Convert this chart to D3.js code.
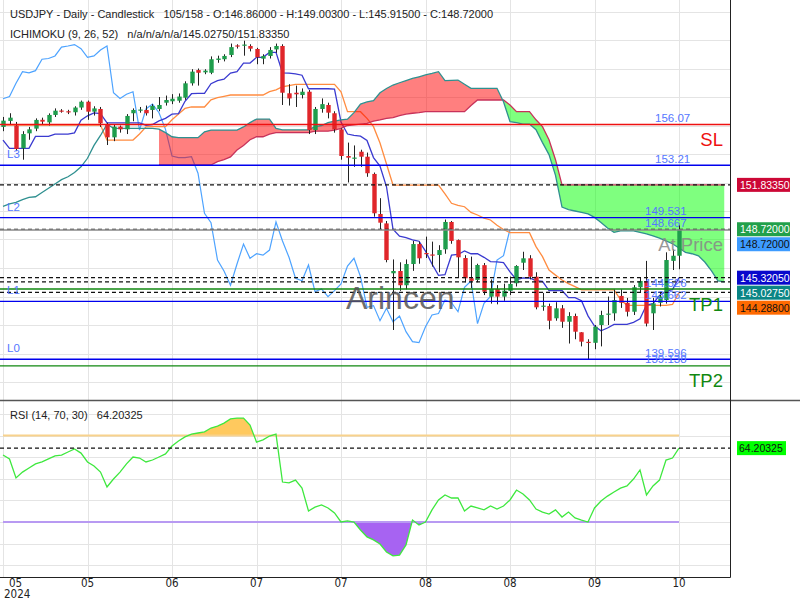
<!DOCTYPE html>
<html>
<head>
<meta charset="utf-8">
<script src="https://cdn.jsdelivr.net/npm/d3@7"></script>
<style>
  body { margin: 0; background: #fff; }
  svg { display: block; font-family: "Liberation Sans", Arial, sans-serif; }
</style>
</head>
<body>
<div id="chart"></div>
<script>
// ---- data ----
const opens  = [155.90,156.32,156.00,154.40,155.45,155.78,156.40,156.22,156.74,157.05,157.00,156.93,157.26,157.67,156.97,157.16,156.08,155.17,155.92,155.73,
                156.86,157.05,157.09,157.09,157.16,157.60,157.70,157.74,157.95,158.96,159.89,159.73,159.70,160.60,160.65,160.95,161.62,161.60,161.58,161.37,
                160.69,160.88,161.34,161.58,158.26,158.30,158.14,158.37,155.68,157.16,157.44,156.86,155.73,153.86,153.70,154.16,153.81,152.60,149.79,149.13,
                145.63,145.79,144.79,146.28,147.68,147.05,146.95,146.91,147.31,149.23,147.96,146.70,145.28,145.16,146.20,143.99,144.53,143.99,144.40,144.93,
                146.37,146.68,145.39,143.30,143.33,142.47,143.17,142.23,142.63,141.49,140.82,140.75,142.00,142.73,142.82,144.04,143.56,142.93,144.65,145.09,
                142.82,143.56,143.75,146.50,146.86];
const highs  = [156.60,156.86,156.25,155.60,155.90,156.50,156.55,156.85,157.20,157.15,157.10,157.35,157.75,157.75,157.35,157.30,156.20,156.10,156.00,156.80,
                157.20,157.30,157.40,157.50,158.00,158.10,158.20,158.25,159.10,159.95,160.00,159.95,160.85,160.90,161.00,161.75,161.70,161.95,161.70,161.45,
                161.00,161.50,161.75,161.70,158.90,158.80,158.60,158.50,157.30,157.90,157.60,157.00,155.80,154.80,154.60,154.30,154.10,152.70,150.90,149.30,
                146.60,146.40,146.60,147.90,147.85,148.20,147.85,147.60,149.40,149.30,148.00,146.90,146.80,146.30,146.35,145.20,144.80,144.90,145.40,146.20,
                147.14,146.90,145.70,144.25,143.50,143.60,143.40,142.90,142.80,141.50,141.00,142.00,143.00,144.00,144.50,144.50,143.90,144.80,145.30,146.50,
                143.90,144.30,147.10,147.30,149.003];
const lows   = [155.60,156.10,154.20,153.60,155.00,155.60,156.10,156.00,156.60,156.90,156.80,156.70,157.10,156.40,156.70,155.90,154.63,154.90,155.50,155.40,
                156.30,156.90,156.70,156.50,157.00,157.40,157.50,157.60,157.80,158.80,158.80,159.60,159.60,160.40,160.50,160.80,161.40,160.90,161.20,160.30,
                160.30,160.70,161.10,157.44,157.40,157.30,157.90,155.40,155.40,156.90,156.50,155.50,153.60,152.00,153.10,153.10,152.40,149.60,148.70,146.40,
                141.65,144.40,144.50,145.80,146.30,146.70,146.10,145.70,147.00,147.70,145.30,145.00,144.60,145.00,144.10,143.50,143.45,143.70,144.10,144.70,
                145.86,145.20,143.10,143.00,141.70,142.30,141.80,140.70,141.00,140.50,139.58,140.30,140.50,142.00,142.30,143.20,142.60,142.70,144.30,141.90,
                141.65,143.30,143.50,145.86,145.915];
const closes = [156.34,156.55,154.35,155.40,155.73,156.39,156.27,156.74,157.04,157.00,156.95,157.26,157.67,156.97,157.20,156.15,155.17,155.92,155.73,156.67,
                157.09,157.12,156.86,157.37,157.44,157.79,157.88,158.03,158.96,159.78,159.70,159.85,160.65,160.70,160.88,161.50,161.58,161.68,161.39,160.79,
                160.88,161.30,161.58,158.30,157.90,158.19,158.37,155.68,157.16,157.50,156.90,155.73,153.86,153.74,153.75,153.81,152.65,149.84,149.18,146.56,
                145.79,144.79,146.28,147.68,146.68,147.00,146.90,147.26,149.23,147.90,146.75,145.28,145.10,146.21,144.34,144.53,143.99,144.41,144.88,146.14,
                146.68,145.39,143.24,143.36,142.30,143.17,142.23,142.63,141.53,140.83,140.76,141.88,142.70,142.80,143.75,143.56,142.93,144.65,145.09,142.10,
                143.52,144.00,146.56,146.86,148.72];

// Ichimoku lines, one value per bar
const tenkan = [154.98,154.40,154.40,154.40,154.40,155.23,155.23,155.23,155.40,155.40,155.40,155.48,156.38,156.68,156.88,156.83,156.19,156.19,156.19,156.19,
                156.19,156.19,156.02,156.07,156.32,156.50,156.80,156.83,157.70,158.23,158.25,158.25,158.93,159.15,159.25,159.68,159.78,160.38,160.38,160.78,
                160.78,161.13,161.13,159.70,159.68,159.63,159.53,158.58,158.58,158.58,158.58,158.55,156.25,155.40,155.30,155.25,154.95,153.75,153.15,151.70,
                148.73,148.23,148.13,147.98,147.88,147.18,146.28,145.48,145.53,146.90,146.95,147.20,147.00,147.00,146.75,146.45,146.43,146.38,145.73,145.18,
                145.30,145.30,145.12,145.07,144.42,144.42,144.42,143.92,143.92,143.70,142.64,141.92,141.59,141.79,142.04,142.04,142.04,142.19,142.44,143.40,
                143.50,144.08,144.38,144.48,145.3205];
const kijun  = [156.03,156.03,156.03,156.03,156.03,156.03,156.03,156.03,156.03,156.03,156.03,156.03,156.03,156.03,156.03,156.03,154.98,154.98,154.98,154.98,
                154.98,155.40,155.90,155.92,155.92,155.92,156.40,156.80,157.20,157.30,157.30,157.30,157.80,157.95,158.05,158.14,158.14,158.14,158.14,158.14,
                158.14,158.37,158.50,158.72,158.80,158.89,158.89,158.89,158.89,158.89,158.89,158.89,158.37,156.97,156.97,156.97,156.50,155.92,154.77,153.30,
                151.82,151.82,151.82,151.82,151.82,151.82,151.82,151.82,151.20,150.54,150.40,150.30,149.90,149.72,149.50,149.37,149.00,148.70,148.48,148.48,
                148.48,148.48,147.50,146.80,145.86,145.50,145.16,144.90,144.69,144.46,144.46,144.46,144.46,144.46,144.46,143.79,143.38,143.38,143.38,143.38,
                143.38,143.38,143.38,143.44,144.288];
// leading spans, bars 0..111 (A) and 24..111 (B)
const spanA  = [150.33,150.50,150.60,150.80,150.95,151.00,151.30,151.60,151.90,152.20,152.40,152.70,153.10,153.70,154.60,155.30,156.10,155.80,155.80,155.80,
                155.80,155.80,155.80,155.80,155.75,155.50,155.21,155.15,155.15,155.15,155.15,155.56,155.68,155.68,155.68,155.68,155.68,155.90,156.20,156.45,
                156.45,156.45,155.80,155.70,155.70,155.70,155.70,155.70,155.92,156.00,156.20,156.30,156.40,156.45,156.90,157.50,157.65,157.75,158.30,158.60,
                158.84,159.00,159.15,159.30,159.42,159.55,159.65,159.78,159.15,159.17,159.19,158.90,158.61,158.61,158.61,158.61,158.61,157.67,156.27,156.20,
                156.10,156.10,155.70,154.80,153.96,152.50,150.28,150.10,150.00,149.90,149.80,149.55,149.20,148.80,148.50,148.60,148.60,148.60,148.50,148.40,
                148.25,148.10,147.90,147.70,147.40,147.10,147.00,146.85,146.40,145.80,145.10,145.0275];
const spanBStart = 24;
const spanB  = [153.23,153.23,153.23,153.23,153.23,153.23,153.23,153.23,153.23,153.46,153.60,153.80,154.28,154.60,155.00,155.21,155.21,155.40,155.50,155.50,
                155.50,155.50,155.50,155.50,155.60,155.60,155.60,155.68,155.80,156.00,156.05,156.10,156.15,156.30,156.39,156.50,156.55,156.70,156.80,156.86,
                156.90,156.97,156.97,156.97,156.97,156.97,156.97,156.97,157.40,157.79,157.79,157.79,157.79,157.79,157.44,156.97,156.97,156.97,156.40,155.92,
                155.00,153.60,151.83,151.83,151.83,151.83,151.83,151.83,151.83,151.83,151.83,151.83,151.83,151.83,151.83,151.83,151.83,151.83,151.83,151.83,
                151.83,151.83,151.83,151.83,151.83,151.83,151.83,151.8335];
const chikouShift = 26;

const rsi = [61.0,59.2,50.4,53.1,55.0,56.9,57.8,59.2,60.6,61.0,62.4,63.8,61.9,57.8,55.9,53.1,46.2,49.9,53.1,56.9,
             60.1,59.6,57.8,58.7,60.1,61.5,65.2,67.5,69.4,70.7,71.2,71.7,73.5,74.4,75.8,77.7,78.1,78.1,74.9,67.0,
             68.0,69.8,70.7,48.5,48.1,49.4,45.7,35.1,36.9,37.9,36.5,34.2,30.0,30.5,30.0,26.3,23.1,21.7,19.8,16.1,
             14.3,14.7,19.4,30.9,28.6,30.0,35.6,40.2,42.5,41.1,41.1,35.1,37.4,36.5,35.6,37.4,36.0,37.4,40.2,44.8,
             43.0,40.2,36.0,34.6,33.7,35.6,32.3,34.6,31.9,30.9,30.0,36.5,39.7,42.0,43.9,45.7,46.7,49.9,54.1,42.5,
             46.7,49.4,58.7,59.6,64.20325];

const priceTicks = [138,140,142,144,146,148,150,152,154,156,158,160,162,164];
const rsiTicks = [10,20,30,40,50,60,70,80];
const dateBars = [0,13,26,39,52,65,78,91,104];
const dateLabels = ["05","05","06","07","07","08","08","09","10"];

const levelNames  = ["SL","L3","L2","At Price","TP1","L1","L0","TP2"];
const levelValues = [156.07,153.21,149.531,148.667,144.526,143.662,139.596,139.138];
const dashedValues = [151.8335,148.72,145.3205,145.0275,144.288];
const markerNames  = ["spanB","close","chikou","tenkan","spanA","kijun"];
const markerValues = [151.8335,148.72,148.72,145.3205,145.0275,144.288];
const rsiLast = 64.20325;

const headerLine1 = "USDJPY - Daily - Candlestick   105/158 - O:146.86000 - H:149.00300 - L:145.91500 - C:148.72000";
const headerLine2 = "ICHIMOKU (9, 26, 52)   n/a/n/a/n/a/145.02750/151.83350";
const rsiHeader = "RSI (14, 70, 30)   64.20325";

// ---- layout ----
const W = 800, H = 600, plotR = 730, mainBot = 400, rsiBot = 577;
const x = d3.scaleLinear().domain([0, 104]).range([3, 679]);
const y = d3.scaleLinear().domain([136, 164]).range([410.5, 11.5]);
const yr = d3.scaleLinear().domain([0, 90]).range([586.8, 392.4]);
const nb = s => s.replace(/ /g, "\u00a0");

const svg = d3.select("#chart").append("svg").attr("width", W).attr("height", H);
const defs = svg.append("defs");
defs.append("clipPath").attr("id", "clipMain").append("rect").attr("x", 0).attr("y", 0).attr("width", plotR).attr("height", mainBot);
defs.append("clipPath").attr("id", "clipRsi").append("rect").attr("x", 0).attr("y", mainBot).attr("width", plotR).attr("height", rsiBot - mainBot);
defs.append("clipPath").attr("id", "clipMainLbl").append("rect").attr("x", 730).attr("y", 0).attr("width", 70).attr("height", mainBot);
defs.append("clipPath").attr("id", "clipRsiLbl").append("rect").attr("x", 730).attr("y", mainBot + 1).attr("width", 70).attr("height", rsiBot - mainBot);

// grid
const grid = svg.append("g").attr("stroke", "#e4e4e4").attr("stroke-width", 1);
grid.selectAll("line.h").data(priceTicks).join("line")
  .attr("x1", 0).attr("x2", plotR).attr("y1", d => Math.round(y(d)) + 0.5).attr("y2", d => Math.round(y(d)) + 0.5);
grid.selectAll("line.r").data(rsiTicks).join("line")
  .attr("x1", 0).attr("x2", plotR).attr("y1", d => Math.round(yr(d)) + 0.5).attr("y2", d => Math.round(yr(d)) + 0.5);
grid.selectAll("line.v").data(dateBars).join("line")
  .attr("y1", 0).attr("y2", rsiBot).attr("x1", d => Math.round(x(d)) + 0.5).attr("x2", d => Math.round(x(d)) + 0.5);

// ---- main panel ----
const main = svg.append("g").attr("clip-path", "url(#clipMain)");
const line = (arr, start) => d3.line().x((d, i) => x(i + start)).y(d => y(d))(arr);

// chikou
main.append("path").attr("d", line(closes.slice(chikouShift), 0))
  .attr("fill", "none").attr("stroke", "#4da3ff").attr("stroke-width", 1.2);
// tenkan / kijun
main.append("path").attr("d", line(kijun, 0)).attr("fill", "none").attr("stroke", "#ff8c40").attr("stroke-width", 1.3);
main.append("path").attr("d", line(tenkan, 0)).attr("fill", "none").attr("stroke", "#3a3ad0").attr("stroke-width", 1.3);

// cloud
const cloud = spanB.map((b, k) => ({ i: k + spanBStart, a: spanA[k + spanBStart], b }));
defs.append("clipPath").attr("id", "aboveA").append("path")
  .attr("d", d3.area().x(d => x(d.i)).y0(0).y1(d => y(d.a))(cloud));
defs.append("clipPath").attr("id", "belowA").append("path")
  .attr("d", d3.area().x(d => x(d.i)).y0(mainBot).y1(d => y(d.a))(cloud));
const cloudArea = d3.area().x(d => x(d.i)).y0(d => y(d.a)).y1(d => y(d.b));
main.append("g").attr("clip-path", "url(#aboveA)").append("path").attr("d", cloudArea(cloud)).attr("fill", "rgba(0,255,0,0.5)");
main.append("g").attr("clip-path", "url(#belowA)").append("path").attr("d", cloudArea(cloud)).attr("fill", "rgba(255,0,0,0.5)");
main.append("path").attr("d", line(spanB, spanBStart)).attr("fill", "none").attr("stroke", "#c8325a").attr("stroke-width", 1.3);
main.append("path").attr("d", line(spanA, 0)).attr("fill", "none").attr("stroke", "#2f9090").attr("stroke-width", 1.3);

// candles
const bars = opens.map((o, i) => ({ i, o, h: highs[i], l: lows[i], c: closes[i] }));
const cg = main.append("g");
cg.selectAll("line.wick").data(bars).join("line")
  .attr("x1", d => Math.round(x(d.i)) + 0.5).attr("x2", d => Math.round(x(d.i)) + 0.5)
  .attr("y1", d => y(d.h)).attr("y2", d => y(d.l)).attr("stroke", "#222").attr("stroke-width", 1);
cg.selectAll("rect.body").data(bars).join("rect")
  .attr("x", d => Math.round(x(d.i)) - 1.7).attr("width", 4.4)
  .attr("y", d => y(Math.max(d.o, d.c)))
  .attr("height", d => Math.max(1.2, Math.abs(y(d.o) - y(d.c))))
  .attr("fill", d => d.c >= d.o ? "#1f9d4c" : "#e0262a");

// levels
const levelColor = { "SL": "#ee1111", "L3": "#0000ee", "L2": "#0000ee", "At Price": "#888888", "TP1": "#118811", "L1": "#0000ee", "L0": "#0000ee", "TP2": "#118811" };
const lv = main.append("g");
lv.selectAll("line.d").data(dashedValues).join("line")
  .attr("x1", 0).attr("x2", plotR).attr("y1", d => y(d)).attr("y2", d => y(d))
  .attr("stroke", "#111").attr("stroke-width", 1.2).attr("stroke-dasharray", "4,3");
lv.selectAll("line.l").data(levelValues).join("line")
  .attr("x1", 0).attr("x2", plotR).attr("y1", d => y(d)).attr("y2", d => y(d))
  .attr("stroke", (d, i) => levelColor[levelNames[i]]).attr("stroke-width", 1.3);

const valX = { "SL": 655, "L3": 655 };
lv.selectAll("text.val").data(levelValues).join("text")
  .attr("x", (d, i) => valX[levelNames[i]] || 645).attr("y", d => y(d) - 2.5)
  .attr("font-size", 11.5).attr("fill", "#5577ff")
  .text(d => String(d));
const leftNames = ["L3", "L2", "L1", "L0"];
lv.selectAll("text.ln").data(levelValues.filter((d, i) => leftNames.includes(levelNames[i]))).join("text")
  .attr("x", 7).attr("y", d => y(d) - 7).attr("font-size", 11.5).attr("fill", "#5577ff")
  .text(d => levelNames[levelValues.indexOf(d)]);
const bigNames = ["SL", "At Price", "TP1", "TP2"];
lv.selectAll("text.big").data(levelValues.filter((d, i) => bigNames.includes(levelNames[i]))).join("text")
  .attr("x", 723).attr("y", d => y(d) + 21.5).attr("text-anchor", "end").attr("font-size", 18.5)
  .attr("fill", d => levelColor[levelNames[levelValues.indexOf(d)]])
  .attr("opacity", d => levelNames[levelValues.indexOf(d)] === "At Price" ? 0.85 : 1)
  .text(d => levelNames[levelValues.indexOf(d)]);

// watermark
svg.append("text").attr("x", 346).attr("y", 309).attr("font-size", 32).attr("fill", "#555").attr("opacity", 0.85).text("Arincen");

// ---- RSI panel ----
const rp = svg.append("g").attr("clip-path", "url(#clipRsi)");
const rLine = d3.line().x((d, i) => x(i)).y(d => yr(d));
defs.append("clipPath").attr("id", "over70").append("rect").attr("x", 0).attr("y", 0).attr("width", plotR).attr("height", yr(70));
defs.append("clipPath").attr("id", "under30").append("rect").attr("x", 0).attr("y", yr(30)).attr("width", plotR).attr("height", H);
rp.append("g").attr("clip-path", "url(#over70)").append("path")
  .attr("d", d3.area().x((d, i) => x(i)).y0(yr(70)).y1(d => yr(d))(rsi)).attr("fill", "#ffc95e");
rp.append("g").attr("clip-path", "url(#under30)").append("path")
  .attr("d", d3.area().x((d, i) => x(i)).y0(yr(30)).y1(d => yr(d))(rsi)).attr("fill", "#a763f2");
rp.append("line").attr("x1", x(0)).attr("x2", x(104)).attr("y1", yr(70)).attr("y2", yr(70)).attr("stroke", "#f8d28c").attr("stroke-width", 2);
rp.append("line").attr("x1", x(0)).attr("x2", x(104)).attr("y1", yr(30)).attr("y2", yr(30)).attr("stroke", "#b89af2").attr("stroke-width", 2);
rp.append("path").attr("d", rLine(rsi)).attr("fill", "none").attr("stroke", "#3ee83e").attr("stroke-width", 1.3);
rp.append("line").attr("x1", 0).attr("x2", plotR).attr("y1", yr(rsiLast)).attr("y2", yr(rsiLast))
  .attr("stroke", "#111").attr("stroke-width", 1.2).attr("stroke-dasharray", "4,3");

// ---- frame ----
svg.append("line").attr("x1", 0).attr("x2", W).attr("y1", 400.5).attr("y2", 400.5).attr("stroke", "#555").attr("stroke-width", 1.5);
svg.append("line").attr("x1", plotR + 0.5).attr("x2", plotR + 0.5).attr("y1", 0).attr("y2", rsiBot + 0.5).attr("stroke", "#222");
svg.append("line").attr("x1", 0).attr("x2", plotR + 0.5).attr("y1", rsiBot + 0.5).attr("y2", rsiBot + 0.5).attr("stroke", "#222");

// ---- axes ----
const fmt = d3.format(".5f");
const ax = svg.append("g").attr("transform", "translate(740,0)").attr("clip-path", "url(#clipMainLbl)")
  .call(d3.axisRight(y).tickValues(priceTicks.concat([136])).tickSize(0).tickPadding(0).tickFormat(fmt));
ax.select(".domain").remove();
ax.selectAll("text").attr("font-size", 10.5).attr("fill", "#222").attr("font-family", "Liberation Sans, Arial, sans-serif")
  .attr("transform", d => d === 136 ? "translate(0,-9)" : null);
const axr = svg.append("g").attr("transform", "translate(740,0)").attr("clip-path", "url(#clipRsiLbl)")
  .call(d3.axisRight(yr).tickValues([0].concat(rsiTicks, [90])).tickSize(0).tickPadding(0).tickFormat(fmt));
axr.select(".domain").remove();
axr.selectAll("text").attr("font-size", 10.5).attr("fill", "#222").attr("font-family", "Liberation Sans, Arial, sans-serif")
  .attr("transform", d => d === 90 ? "translate(0,12)" : (d === 0 ? "translate(0,-4)" : null));

// date axis
svg.selectAll("text.date").data(dateBars).join("text")
  .attr("x", (d, i) => i === 0 ? x(d) + 6 : x(d)).attr("y", 587)
  .attr("text-anchor", (d, i) => i === 0 ? "start" : "middle")
  .attr("font-size", 11.5).attr("fill", "#222").attr("font-family", "Liberation Sans Narrow, DejaVu Sans Condensed, Liberation Sans, sans-serif")
  .text((d, i) => dateLabels[i]);
svg.append("text").attr("x", 4).attr("y", 598).attr("font-size", 11.5).attr("fill", "#222")
  .attr("font-family", "Liberation Sans Narrow, DejaVu Sans Condensed, Liberation Sans, sans-serif").text("2024");

// price markers on the right axis
const markerStyle = {
  spanB: ["#cc0836", "#fff"], close: ["#22a04b", "#fff"], chikou: ["#3d9bff", "#111"],
  tenkan: ["#0808cc", "#fff"], spanA: ["#0a8585", "#fff"], kijun: ["#ff6a00", "#111"]
};
let lastY = -100;
const markers = markerValues.map((v, i) => {
  let my = Math.max(y(v), lastY + 15);
  lastY = my;
  return { v, name: markerNames[i], my };
});
const mk = svg.append("g").selectAll("g").data(markers).join("g").attr("transform", d => `translate(737,${d.my})`);
mk.append("rect").attr("x", 0).attr("y", -7).attr("width", 53).attr("height", 14).attr("fill", d => markerStyle[d.name][0]);
mk.append("text").attr("x", 3).attr("y", 4).attr("font-size", 10.5).attr("fill", d => markerStyle[d.name][1]).text(d => fmt(d.v));

const rm = svg.append("g").attr("transform", `translate(737,${yr(rsiLast)})`);
rm.append("rect").attr("x", 0).attr("y", -7).attr("width", 49).attr("height", 14).attr("fill", "#00ff00");
rm.append("text").attr("x", 2).attr("y", 4).attr("font-size", 10.5).attr("fill", "#111").text(fmt(rsiLast));

// ---- headers ----
const hdr = svg.append("g").attr("font-size", 11).attr("fill", "#222");
hdr.append("text").attr("x", 10).attr("y", 18).text(nb(headerLine1));
hdr.append("text").attr("x", 10).attr("y", 38).text(nb(headerLine2));
hdr.append("text").attr("x", 10).attr("y", 419).text(nb(rsiHeader));
</script>
</body>
</html>
